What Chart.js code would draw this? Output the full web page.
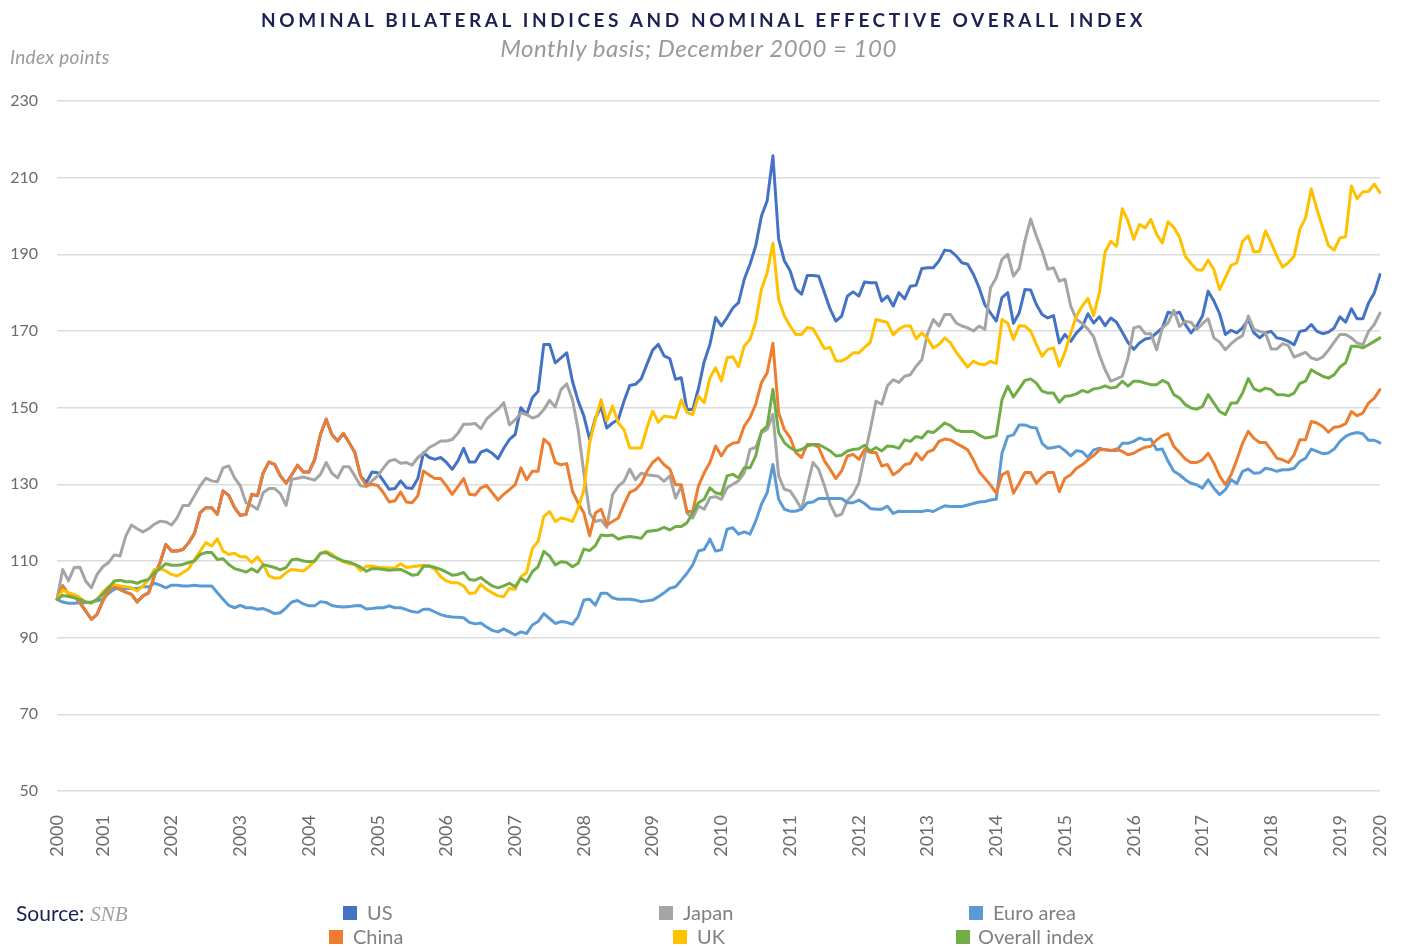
<!DOCTYPE html>
<html>
<head>
<meta charset="utf-8">
<title>Nominal bilateral indices</title>
<script src="https://cdn.jsdelivr.net/npm/chart.js@4.4.1/dist/chart.umd.min.js"></script>
<style>
  body { margin: 0; background: #fff; font-family: Lato, 'Noto Sans', sans-serif; }
  #wrap { position: relative; width: 1407px; height: 947px; overflow: hidden; }
  #chart { position: absolute; left: 0; top: 0; }
  .title { position: absolute; top: 8px; left: 0; width: 1407px; text-align: center;
           font-weight: 700; font-size: 19px; letter-spacing: 3.6px; color: #1d2150; }
  .subtitle { position: absolute; top: 33px; left: 0; width: 1397px; text-align: center;
              font-style: italic; font-size: 24px; letter-spacing: 0.5px; color: #9a9a9a; }
  .unit { position: absolute; top: 45px; left: 10px; font-style: italic; font-size: 19px;
          letter-spacing: 0.3px; color: #9a9a9a; }
  .source { position: absolute; top: 900px; left: 16px; font-size: 21px; color: #1d2150; }
  .source i { font-family: 'Liberation Serif', serif; color: #a0a0a0; margin-left: 6px; }
  .leg { position: absolute; font-size: 20px; color: #808080; white-space: nowrap; }
  .leg span { position: absolute; top: 6px; width: 14px; height: 14px; }
</style>
</head>
<body>
<div id="wrap">
  <canvas id="chart" width="1407" height="947"></canvas>
  <div class="title">NOMINAL BILATERAL INDICES AND NOMINAL EFFECTIVE OVERALL INDEX</div>
  <div class="subtitle">Monthly basis; December 2000 = 100</div>
  <div class="unit">Index points</div>
  <div class="source">Source:<i>SNB</i></div>
  <div id="legend"></div>
</div>
<script>
// year labels and the month index at which each one sits
const yearLabels = ['2000', '2001', '2002', '2003', '2004', '2005', '2006', '2007', '2008', '2009', '2010',
  '2011', '2012', '2013', '2014', '2015', '2016', '2017', '2018', '2019', '2020'];
const yearLabelAt = [0, 8, 20, 32, 44, 56, 68, 80, 92, 104, 116, 128, 140, 152, 164, 176, 188, 200, 212, 224, 231];

const china = [
  100, 103.5, 101.3, 100.9, 99.1, 97, 94.8, 96.1, 99.6, 102.2,
  103.5, 102.6, 101.9, 101.3, 99.3, 100.9, 101.7, 106.1, 109.6, 114.3,
  112.6, 112.6, 113, 114.8, 117.2, 122.6, 123.9, 123.9, 122.2, 128.3,
  127.1, 123.9, 121.9, 122.2, 127.4, 127, 133, 135.8, 135.2, 132.2,
  130.3, 132.5, 135, 133.2, 133.2, 136.5, 143, 147, 143, 141.3,
  143.3, 140.9, 138.3, 132.2, 129.6, 130, 129.7, 127.8, 125.4, 125.7,
  128, 125.4, 125.2, 127, 133.5, 132.4, 131.5, 131.5, 129.6, 127.4,
  129.4, 131.5, 127.4, 127.2, 129.1, 129.7, 127.8, 125.9, 127.4, 128.6,
  129.9, 134.3, 131.2, 133.4, 133.4, 141.8, 140.4, 135.7, 135.1, 135.4,
  128.2, 125.1, 122.5, 116.6, 122.5, 123.5, 119.4, 120.3, 121.2, 124.7,
  127.9, 128.6, 130.2, 133.4, 135.7, 136.9, 135.1, 134, 129.9, 129.9,
  122.9, 122.9, 129.6, 133, 135.7, 140, 137.4, 139.8, 140.7, 141,
  145.2, 147.4, 150.9, 156.5, 159.1, 166.8, 148.7, 144.3, 142.2, 138.3,
  137, 140.4, 140.4, 139.6, 136.1, 133.9, 131.5, 133.5, 137.4, 137.8,
  136.5, 139.1, 138.3, 138.3, 134.8, 135.2, 132.5, 133.5, 135.1, 135.5,
  138.1, 136.4, 138.4, 139, 141.2, 141.8, 141.6, 140.7, 139.9, 139,
  136.4, 133.3, 131.6, 129.8, 127.7, 132.5, 133.3, 127.7, 130.3, 133.1,
  133.1, 130.3, 132, 133.1, 133.1, 128.1, 131.6, 132.5, 134.2, 135.1,
  136.4, 137.5, 139, 139, 138.8, 139.2, 138.6, 137.7, 138.1, 139,
  139.7, 139.9, 141.6, 142.7, 143.2, 139.9, 138.3, 136.6, 135.7, 135.7,
  136.4, 138.1, 135.5, 132.2, 129.9, 132.5, 136.4, 140.7, 143.8, 142,
  140.9, 140.9, 139, 136.8, 136.4, 135.7, 137.7, 141.6, 141.6, 146.4,
  146, 145.1, 143.6, 144.9, 145.1, 145.8, 149, 147.9, 148.6, 151.2,
  152.5, 154.7
];

const us = [
  100, 103.5, 101.3, 100.9, 99.1, 97, 94.8, 96.1, 99.6, 102.2,
  103.5, 102.6, 101.9, 101.3, 99.3, 100.9, 101.7, 106.1, 109.6, 114.3,
  112.6, 112.6, 113, 114.8, 117.2, 122.6, 123.9, 123.9, 122.2, 128.3,
  127.1, 123.9, 121.9, 122.2, 127.4, 127, 133, 135.8, 135.2, 132.2,
  130.3, 132.5, 135, 133.2, 133.2, 136.5, 143, 147, 143, 141.3,
  143.3, 140.9, 138.3, 132.2, 130.4, 133.2, 133, 130.9, 128.7, 128.9,
  130.9, 129.1, 128.9, 131.5, 138.3, 137, 136.5, 137, 135.7, 133.9,
  136.1, 139.4, 135.8, 135.8, 138.4, 139, 138.1, 136.7, 139.4, 141.7,
  143, 150, 148.2, 152.6, 154.3, 166.5, 166.5, 161.7, 163, 164.3,
  156.9, 151.7, 147.8, 141.7, 147.3, 150.2, 144.7, 146, 146.9, 151.7,
  155.8, 156.1, 157.5, 161.3, 165, 166.5, 163.5, 162.8, 157.4, 157.8,
  149.5, 149.5, 155, 162, 166.5, 173.5, 171.3, 173.5, 176, 177.4,
  183.5, 187.4, 192.2, 200, 204, 215.7, 194, 188.3, 185.7, 181,
  179.6, 184.5, 184.5, 184.3, 180, 175.7, 172.6, 173.9, 179.1, 180.2,
  179.1, 182.8, 182.6, 182.6, 177.8, 179.1, 176.5, 180, 178.4, 181.7,
  181.9, 186.3, 186.5, 186.5, 188.3, 191.1, 190.9, 189.6, 187.8, 187.4,
  184.8, 181.3, 176.9, 174.7, 172.6, 178.7, 180, 172, 174.7, 180.8,
  180.7, 176.9, 174.3, 173.4, 174, 166.9, 169.1, 167.3, 169.5, 171,
  174.5, 172.1, 173.7, 171.4, 173.4, 172.3, 169.7, 167, 165.2, 166.9,
  167.9, 168.2, 169.5, 170.8, 174.9, 174.5, 174.9, 171.7, 169.5, 171.3,
  173.9, 180.4, 177.8, 174.5, 169.1, 170.2, 169.5, 170.8, 173, 169.5,
  168.2, 169.5, 169.9, 168.2, 167.9, 167.3, 166.4, 169.9, 170.2, 171.7,
  169.9, 169.3, 169.7, 170.8, 173.7, 172.3, 175.8, 173.2, 173.2, 177.3,
  179.9, 184.7
];

const japan = [
  100, 107.8, 104.8, 108.3, 108.4, 104.8, 103, 106.5, 108.5, 109.6,
  111.6, 111.3, 116.5, 119.4, 118.4, 117.6, 118.4, 119.6, 120.4, 120.2,
  119.4, 121.3, 124.5, 124.5, 127, 129.6, 131.6, 130.9, 130.7, 134.3,
  134.8, 131.7, 129.6, 125.2, 124.5, 123.5, 127.8, 128.9, 128.9, 127.6,
  124.5, 131.3, 131.6, 131.9, 131.5, 131.1, 132.6, 135.7, 132.9, 131.7,
  134.6, 134.6, 132.2, 129.6, 129.4, 130.9, 132.2, 134.3, 136.1, 136.5,
  135.5, 135.7, 135, 137, 138.1, 139.6, 140.4, 141.3, 141.3, 141.7,
  143.3, 145.7, 145.7, 145.9, 144.5, 147, 148.4, 149.6, 151.3, 145.5,
  146.8, 148.6, 148.2, 147.3, 147.8, 149.5, 151.9, 150.2, 154.7, 156.2,
  152.1, 144.3, 132.9, 122.5, 120.3, 120.7, 118.8, 127.3, 129.5, 130.8,
  134, 131.2, 132.9, 132.5, 132.3, 132.1, 130.8, 132.2, 126.4, 129.5,
  122.5, 121.2, 124.3, 123.5, 126.5, 126.8, 126.1, 129.1, 130, 130.9,
  133, 139.1, 139.6, 143.5, 144.3, 148.3, 132.2, 128.7, 128.3, 126.1,
  123.5, 129.6, 135.7, 133.9, 129.6, 124.8, 121.7, 122.2, 125.7, 127.4,
  130.4, 137.4, 144.3, 151.7, 150.9, 155.7, 157.3, 156.6, 158.2, 158.6,
  160.8, 162.5, 169.3, 173, 171.3, 174.3, 174.3, 172.1, 171.3, 170.8,
  170, 171.3, 170.4, 181.3, 183.9, 188.7, 190, 184.3, 186.3, 193.5,
  199.2, 194.8, 190.9, 186.1, 186.5, 183, 183.5, 176.5, 173, 172,
  170.5, 168.5, 163.8, 159.9, 156.9, 157.5, 158.2, 163, 170.8, 171.2,
  169.3, 169.3, 165.1, 170.8, 172.1, 175.4, 171.2, 172.5, 172.3, 170.4,
  171.9, 173.2, 168.2, 167.1, 165.1, 166.7, 167.9, 168.8, 173.9, 170.4,
  169.9, 169.5, 165.3, 165.3, 166.7, 166.2, 163.2, 163.8, 164.4, 163,
  162.5, 163.2, 165, 167.1, 169.1, 169.1, 168.2, 166.9, 166.4, 169.9,
  171.7, 174.7
];

const uk = [
  100, 102.4, 101.7, 101.3, 100.4, 99.3, 99, 100, 101.9, 103.3,
  103.9, 103.5, 103.3, 103, 102.2, 103.5, 105.2, 107.8, 108, 107.4,
  106.5, 106.1, 107, 108, 110.4, 112.6, 114.8, 113.9, 115.8, 112.6,
  111.7, 112, 111.1, 111.1, 109.6, 111.1, 109.1, 106.1, 105.5, 105.6,
  107, 107.8, 107.6, 107.4, 108.5, 110, 112, 112.5, 111.8, 110.5,
  109.8, 109.3, 109.1, 107.5, 108.6, 108.7, 108.4, 108.3, 108.2, 108.2,
  109.3, 108.3, 108.5, 108.7, 108.9, 108.7, 107.8, 105.9, 104.8, 104.3,
  104.3, 103.5, 101.5, 101.7, 103.9, 102.6, 101.7, 100.9, 100.7, 102.9,
  102.6, 105.9, 107, 113.3, 115.1, 121.6, 122.9, 120.3, 121.2, 120.9,
  120.3, 123.8, 128.6, 140.8, 146.9, 152.1, 146.5, 150.4, 146, 144.3,
  139.5, 139.5, 139.5, 144.7, 149.1, 146.2, 147.8, 147.6, 147.3, 152,
  148.8, 148.2, 153, 151.3, 157.8, 160.4, 157, 163, 163.3, 160.7,
  166.1, 167.8, 172.4, 180.9, 185.2, 192.9, 178.3, 173.9, 171.3, 169.1,
  169.1, 170.9, 170.6, 168, 165.4, 165.7, 162.2, 162.2, 163, 164.3,
  164.3, 165.7, 167, 173, 172.6, 172.2, 169, 170.5, 171.3, 171.3,
  168, 169.5, 168, 165.6, 166.5, 168.2, 166.9, 164.5, 162.5, 160.6,
  162.1, 161.4, 161.2, 162.1, 161.5, 173, 172, 167.8, 171.4, 171.3,
  170, 166.5, 163.4, 165.2, 165.6, 160.8, 164.5, 169.5, 173.9, 176.5,
  178.5, 174, 180, 190.6, 193.4, 192.1, 201.9, 198.7, 193.9, 197.8,
  196.9, 199.1, 195.2, 193, 198.5, 197, 194.5, 189.5, 187.6, 186,
  185.9, 188.5, 186, 180.8, 183.9, 187.1, 187.8, 193.4, 194.8, 190.6,
  190.8, 196.1, 193, 189.5, 186.7, 187.8, 189.5, 196.5, 199.5, 207.1,
  201.7, 196.9, 192.3, 191.1, 194.3, 194.6, 207.8, 204.5, 206.3, 206.4,
  208.3, 206.1
];

const euroArea = [
  100, 99.3, 99, 99, 99.1, 99.1, 99.3, 99.6, 100, 101.6,
  102.6, 103, 102.8, 102.8, 102.8, 103.3, 103.3, 104.2, 103.7, 103,
  103.7, 103.7, 103.5, 103.5, 103.7, 103.5, 103.5, 103.5, 101.7, 100,
  98.4, 97.8, 98.4, 97.8, 97.8, 97.4, 97.6, 97, 96.3, 96.5,
  97.8, 99.3, 99.7, 98.8, 98.3, 98.3, 99.4, 99.2, 98.4, 98.1,
  98, 98.1, 98.3, 98.4, 97.5, 97.6, 97.8, 97.8, 98.3, 97.8,
  97.8, 97.3, 96.8, 96.6, 97.4, 97.4, 96.7, 96, 95.6, 95.4,
  95.3, 95.2, 94, 93.6, 93.8, 92.8, 91.9, 91.5, 92.3, 91.5,
  90.7, 91.5, 91.1, 93.3, 94.2, 96.3, 95, 93.7, 94.2, 94,
  93.5, 95.5, 99.8, 100, 98.5, 101.6, 101.6, 100.4, 100, 100,
  100, 99.8, 99.4, 99.6, 99.8, 100.7, 101.7, 102.9, 103.3, 105,
  106.8, 109, 112.6, 113, 115.7, 112.6, 112.9, 118.3, 118.7, 117,
  117.6, 117, 120.4, 124.8, 127.8, 135.2, 126.1, 123.5, 123, 123,
  123.5, 125.2, 125.4, 126.3, 126.3, 126.3, 126.3, 126.3, 125.2, 125.2,
  125.9, 125, 123.7, 123.5, 123.5, 124.3, 122.4, 123, 122.9, 122.9,
  122.9, 122.9, 123.2, 122.9, 123.7, 124.4, 124.2, 124.2, 124.2, 124.6,
  125, 125.4, 125.5, 125.9, 126.1, 138.1, 142.5, 142.9, 145.5, 145.5,
  144.9, 144.7, 140.7, 139.4, 139.6, 139.9, 138.8, 137.4, 138.8, 138.5,
  137, 139, 139.4, 139, 138.8, 138.8, 140.7, 140.7, 141.2, 142.1,
  141.6, 141.8, 139, 139.2, 136, 133.4, 132.5, 131.2, 130.3, 129.9,
  129, 131.2, 129, 127.3, 128.6, 131.2, 130.2, 133.4, 134, 132.9,
  133, 134.2, 133.9, 133.4, 133.8, 133.8, 134.2, 136, 136.8, 139.2,
  138.6, 138, 138.2, 139.2, 141.2, 142.5, 143.2, 143.5, 143.2, 141.5,
  141.5, 140.8
];

const overall = [
  100, 101, 100.7, 100.4, 100, 99.3, 99.1, 100, 101.3, 103,
  104.8, 105, 104.6, 104.6, 104.2, 104.8, 105.2, 107, 108, 109.3,
  108.9, 108.9, 109.1, 109.6, 110, 111.7, 112.2, 112.2, 110.4, 110.6,
  109.1, 108, 107.6, 107.1, 108, 107.1, 109, 108.7, 108.3, 107.7,
  108.3, 110.3, 110.5, 110, 109.8, 110, 112, 112.2, 111.3, 110.7,
  110, 109.7, 109.1, 108.4, 107.3, 108, 108, 107.8, 107.6, 107.7,
  107.8, 107.1, 106.3, 106.5, 108.6, 108.7, 108.3, 107.8, 107.1, 106.3,
  106.5, 107, 105.2, 105, 105.7, 104.5, 103.5, 103, 103.5, 104.2,
  103.3, 105.5, 104.6, 107.2, 108.5, 112.5, 111.3, 109, 109.8, 109.6,
  108.5, 109.4, 113.1, 112.7, 114, 116.8, 116.6, 116.8, 115.7, 116.2,
  116.4, 116.2, 115.9, 117.7, 117.9, 118.1, 118.8, 118.1, 119, 119,
  120, 122.5, 125.2, 126.1, 129.1, 127.8, 127.4, 132.2, 132.6, 131.7,
  134.3, 134.3, 137.4, 143.9, 145.2, 154.8, 143.5, 140.9, 139.6, 138.7,
  139.1, 140, 140.4, 140.4, 139.6, 138.7, 137.4, 137.6, 138.7, 139.1,
  139.3, 140.2, 138.7, 139.6, 138.7, 140, 139.9, 139.4, 141.6, 141.2,
  142.5, 142.1, 143.8, 143.5, 144.7, 146, 145.3, 144.1, 143.8, 143.8,
  143.8, 142.9, 142.1, 142.3, 142.7, 152.1, 155.6, 152.8, 154.9, 157.1,
  157.5, 156.4, 154.3, 153.8, 153.8, 151.4, 153, 153.1, 153.6, 154.5,
  154, 154.9, 155.1, 155.7, 155.1, 155.4, 156.9, 155.6, 156.9, 156.9,
  156.4, 156, 156, 157.1, 156.4, 153.4, 152.5, 150.8, 149.9, 149.6,
  150.3, 153.4, 151.2, 149, 148.2, 151.2, 151.2, 153.8, 157.6, 154.9,
  154.3, 155.1, 154.7, 153.4, 153.4, 153.1, 153.8, 156.3, 156.9, 159.9,
  159, 158.2, 157.7, 158.6, 160.6, 161.7, 166, 166, 165.6, 166.4,
  167.3, 168.2
];

// legend order as in the picture, drawing order: overall on top, US at the bottom
const series = [
  { name: 'US', data: us, color: '#4472C4', order: 5 },
  { name: 'Japan', data: japan, color: '#A5A5A5', order: 4 },
  { name: 'Euro area', data: euroArea, color: '#5B9BD5', order: 3 },
  { name: 'China', data: china, color: '#ED7D31', order: 2 },
  { name: 'UK', data: uk, color: '#FFC000', order: 1 },
  { name: 'Overall index', data: overall, color: '#70AD47', order: 0 }
];

const months = us.map((_, i) => i);

// legend: two rows of three, laid out like the original
const legendSpots = [[343, 900], [659, 900], [969, 900], [329, 924], [673, 924], [956, 924]];
const legend = document.getElementById('legend');
series.forEach((s, i) => {
  const [x, y] = legendSpots[i];
  legend.insertAdjacentHTML('beforeend',
    `<div class="leg" style="left:${x}px;top:${y}px;"><span style="left:0;background:${s.color}"></span>` +
    `<div style="position:absolute;left:${i === 5 ? 22 : 24}px;top:0">${s.name}</div></div>`);
});

Chart.defaults.font.family = "Lato, 'Noto Sans', sans-serif";

new Chart(document.getElementById('chart'), {
  type: 'line',
  data: {
    labels: months,
    datasets: series.map(s => ({
      label: s.name,
      data: s.data,
      borderColor: s.color,
      backgroundColor: s.color,
      order: s.order
    }))
  },
  options: {
    responsive: false,
    animation: false,
    layout: { padding: { left: 0, right: 27, top: 101, bottom: 66 } },
    plugins: { legend: { display: false }, tooltip: { enabled: false } },
    elements: {
      point: { radius: 0 },
      line: { borderWidth: 3, tension: 0, borderJoinStyle: 'round', borderCapStyle: 'round' }
    },
    scales: {
      x: {
        grid: { display: false, drawTicks: false },
        border: { display: false },
        ticks: {
          autoSkip: false,
          minRotation: 90,
          maxRotation: 90,
          padding: 24,
          color: '#6b6b6b',
          font: { size: 18 },
          callback: (value) => {
            const k = yearLabelAt.indexOf(value);
            return k >= 0 ? yearLabels[k] : '';
          }
        },
        afterFit: (scale) => {
          scale.height = 90;
          // the rotated end labels may hang over the plot edges
          scale.paddingLeft = 0;
          scale.paddingRight = 0;
        }
      },
      y: {
        min: 50,
        max: 230,
        grid: { color: '#dcdcdc', lineWidth: 1.5, drawTicks: false },
        border: { display: false },
        ticks: { stepSize: 20, padding: 19, color: '#6b6b6b', font: { size: 16 } },
        afterFit: (scale) => { scale.width = 57; }
      }
    }
  }
});
</script>
</body>
</html>
